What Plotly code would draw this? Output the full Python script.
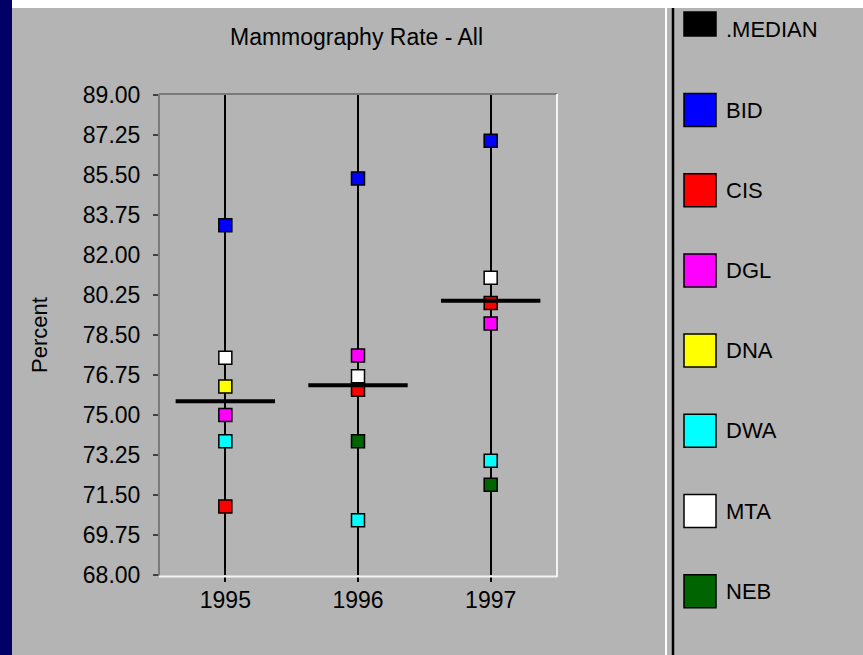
import plotly.graph_objects as go

# ---------------- data ----------------
years = ["1995", "1996", "1997"]
median = [75.6, 76.3, 80.0]
series_names = ["BID", "CIS", "DGL", "DNA", "DWA", "MTA", "NEB"]
BID = [83.3, 85.35, 87.0]
CIS = [71.0, 76.1, 79.9]
DGL = [75.0, 77.6, 79.0]
DNA = [76.25, None, None]
DWA = [73.85, 70.4, 73.0]
MTA = [77.5, 76.7, 81.0]
NEB = [None, 73.85, 71.95]
series_values = [BID, CIS, DGL, DNA, DWA, MTA, NEB]
series_colors = ["#0000ff", "#ff0000", "#ff00ff", "#ffff00", "#00ffff", "#ffffff", "#006400"]
y_ticks = [68.00, 69.75, 71.50, 73.25, 75.00, 76.75, 78.50, 80.25, 82.00, 83.75, 85.50, 87.25, 89.00]
y_tick_text = ["68.00", "69.75", "71.50", "73.25", "75.00", "76.75", "78.50",
               "80.25", "82.00", "83.75", "85.50", "87.25", "89.00"]
legend_names = [".MEDIAN"] + series_names
legend_colors = ["#000000"] + series_colors

# ---------------- layout helpers ----------------
W, H = 863, 655
L, R, T, B = 159, 557, 95, 575
BG = "#b4b4b4"
FONT = "Arial, Liberation Sans, sans-serif"


def px(x):
    return (x - L) / (R - L)


def py(y):
    return (B - y) / (B - T)


fig = go.Figure()

for name, vals, col in zip(series_names, series_values, series_colors):
    fig.add_trace(go.Scatter(
        x=years, y=vals, mode="markers", name=name,
        marker=dict(symbol="square", size=13, color=col,
                    line=dict(color="#000000", width=1.5)),
        showlegend=False, cliponaxis=False,
    ))

fig.add_trace(go.Scatter(
    x=years, y=median, mode="markers", name=".MEDIAN",
    marker=dict(symbol="line-ew", size=71, color="#000000",
                line=dict(color="#000000", width=4)),
    showlegend=False, cliponaxis=False,
))

shapes = []
# navy strip on the left
shapes.append(dict(type="rect", xref="paper", yref="paper",
                   x0=px(0), x1=px(12), y0=py(H), y1=py(0),
                   fillcolor="#000066", line=dict(width=0), layer="above"))
# white band on top
shapes.append(dict(type="rect", xref="paper", yref="paper",
                   x0=px(12), x1=px(W), y0=py(8), y1=py(0),
                   fillcolor="#ffffff", line=dict(width=0), layer="above"))
# legend separator
shapes.append(dict(type="line", xref="paper", yref="paper",
                   x0=px(666), x1=px(666), y0=py(8), y1=py(H),
                   line=dict(color="#ffffff", width=2)))
shapes.append(dict(type="line", xref="paper", yref="paper",
                   x0=px(673), x1=px(673), y0=py(8), y1=py(H),
                   line=dict(color="#000000", width=2.5)))
# plot frame (sunken look)
shapes.append(dict(type="line", xref="paper", yref="paper", x0=0, x1=1, y0=py(94), y1=py(94),
                   line=dict(color="#7a7a7a", width=2)))
shapes.append(dict(type="line", xref="paper", yref="paper", x0=px(159), x1=px(159), y0=py(94), y1=py(576),
                   line=dict(color="#7a7a7a", width=2)))
shapes.append(dict(type="line", xref="paper", yref="paper", x0=px(557), x1=px(557), y0=py(94), y1=py(577),
                   line=dict(color="#f4f4f4", width=2)))
shapes.append(dict(type="line", xref="paper", yref="paper", x0=px(159), x1=px(557), y0=py(576.5), y1=py(576.5),
                   line=dict(color="#f4f4f4", width=2)))

annotations = []
# legend
for i, (nm, col) in enumerate(zip(legend_names, legend_colors)):
    if i == 0:
        cy, hh, ty = 24, 12, 29
    else:
        cy, hh = 110 + 80.2 * (i - 1), 16.5
        ty = cy
    shapes.append(dict(type="rect", xref="paper", yref="paper",
                       x0=px(684), x1=px(716), y0=py(cy + hh), y1=py(cy - hh),
                       fillcolor=col, line=dict(color="#000000", width=1.5), layer="above"))
    annotations.append(dict(xref="paper", yref="paper", x=px(724), y=py(ty),
                            xanchor="left", yanchor="middle", text=nm, showarrow=False,
                            font=dict(family=FONT, size=22, color="#000000")))

# title
annotations.append(dict(xref="paper", yref="paper", x=px(356), y=py(37),
                        xanchor="center", yanchor="middle", text="Mammography Rate - All",
                        showarrow=False, font=dict(family=FONT, size=23, color="#000000")))
# y axis label
annotations.append(dict(xref="paper", yref="paper", x=px(39), y=py(335),
                        xanchor="center", yanchor="middle", text="Percent", textangle=-90,
                        showarrow=False, font=dict(family=FONT, size=22, color="#000000")))

fig.update_layout(
    width=W, height=H, autosize=False,
    margin=dict(l=L, r=W - R, t=T, b=H - B, pad=0),
    paper_bgcolor=BG, plot_bgcolor=BG,
    shapes=shapes, annotations=annotations,
    showlegend=False,
    font=dict(family=FONT, size=22, color="#000000"),
    xaxis=dict(type="category", categoryorder="array", categoryarray=years,
               range=[-0.5, 2.5], showgrid=True, gridcolor="#000000", gridwidth=2,
               ticks="outside", ticklen=6, tickwidth=2, tickcolor="#000000",
               showline=False, zeroline=False, fixedrange=True,
               ticklabelstandoff=-2,
               tickfont=dict(family=FONT, size=23, color="#000000")),
    yaxis=dict(range=[68, 89], tickvals=y_ticks, ticktext=y_tick_text,
               showgrid=False, zeroline=False, showline=False,
               ticks="outside", ticklen=5, tickwidth=1.5, tickcolor="#404040",
               ticklabelstandoff=8,
               tickfont=dict(family=FONT, size=23, color="#000000")),
)

fig.write_html("out.html",
               config={"displayModeBar": False},
               post_script="document.body.style.margin='0';document.body.style.overflow='hidden';")
